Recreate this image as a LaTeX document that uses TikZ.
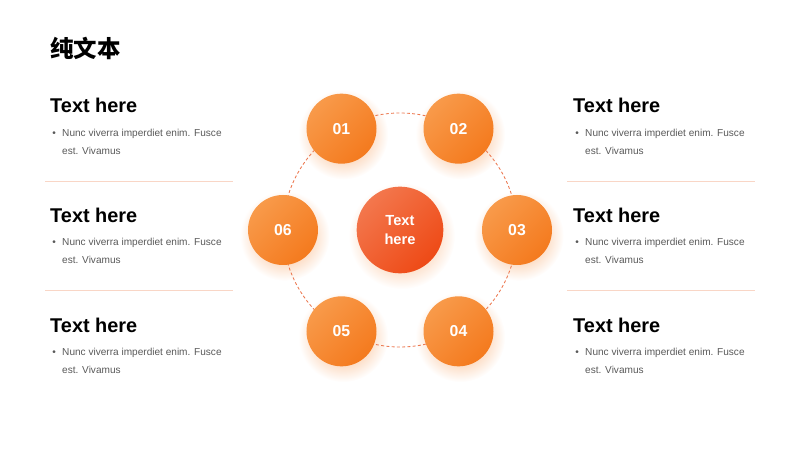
\documentclass[tikz,border=0pt]{standalone}
\usepackage{fontspec}
\setmainfont{Liberation Sans}
\newfontfamily\cjk{Noto Sans CJK SC}
\usetikzlibrary{positioning,calc}

\definecolor{ringc}{HTML}{EC7A52}
\definecolor{numlt}{HTML}{F89A4A}
\definecolor{numdk}{HTML}{F47A1E}
\definecolor{ctrlt}{HTML}{F3774D}
\definecolor{ctrdk}{HTML}{EE4A16}
\definecolor{glowc}{HTML}{FCDCC4}
\definecolor{bodyc}{HTML}{595959}
\definecolor{sepc}{HTML}{F9D6C6}
\pgfdeclareradialshading{glow}{\pgfpoint{0bp}{0bp}}{color(0bp)=(glowc); color(15bp)=(glowc); color(25bp)=(white); color(50bp)=(white)}

\begin{document}
\begin{tikzpicture}[x=0.03cm,y=0.03cm,
 title/.style={font=\cjk\bfseries\fontsize{20}{23}\selectfont,anchor=base west,inner sep=0pt},
 head/.style={font=\bfseries\fontsize{17}{20}\selectfont,anchor=base west,inner sep=0pt},
 body/.style={font=\fontsize{8.6}{15.4}\selectfont,text=bodyc,align=left,anchor=base west,inner sep=0pt},
 num/.style={circle,minimum size=2.1cm,inner sep=0pt,top color=numlt,bottom color=numdk,shading angle=45,
   text=white,font=\bfseries\fontsize{13.5}{16}\selectfont},
 hub/.style={circle,minimum size=2.6cm,inner sep=0pt,top color=ctrlt,bottom color=ctrdk,shading angle=45,
   text=white,align=center,font=\bfseries\fontsize{12.5}{15.5}\selectfont},
 ring/.style={draw=ringc,line width=0.75pt,dash pattern=on 2.5pt off 2pt},
 sep/.style={draw=sepc,line width=0.7pt}]
\useasboundingbox (0,0) rectangle (800,450);
% title
\node[title] (t) at (50,392) {纯文本};
% hub and ring
\coordinate (c) at (400,220);
\foreach \a in {120,60,0,-60,-120,180}
  \shade[shading=glow] ([shift={(\a:3.51cm)},xshift=1.5,yshift=-5]c) circle (1.35cm);
\shade[shading=glow] ([xshift=1.5,yshift=-5]c) circle (1.6cm);
\draw[ring] (c) circle (3.51cm);
\node[hub] (h) at (c) {Text\\here};
\node[num] (n1) at ([shift={(120:3.51cm)}]c) {01};
\node[num] (n2) at ([shift={(60:3.51cm)}]c) {02};
\node[num] (n3) at ([shift={(0:3.51cm)}]c) {03};
\node[num] (n4) at ([shift={(-60:3.51cm)}]c) {04};
\node[num] (n5) at ([shift={(-120:3.51cm)}]c) {05};
\node[num] (n6) at ([shift={(180:3.51cm)}]c) {06};
% left column
\node[head] (l1) at (50,337) {Text here};
\node[body] (lb1) at (62,295) {\llap{\textbullet\hspace{5.5pt}}Nunc viverra imperdiet enim. Fusce\\est. Vivamus};
\node[head] (l2) at (50,227) {Text here};
\node[body] (lb2) at (62,186) {\llap{\textbullet\hspace{5.5pt}}Nunc viverra imperdiet enim. Fusce\\est. Vivamus};
\node[head] (l3) at (50,117) {Text here};
\node[body] (lb3) at (62,76) {\llap{\textbullet\hspace{5.5pt}}Nunc viverra imperdiet enim. Fusce\\est. Vivamus};
\draw[sep] (45,269) -- (233,269);
\draw[sep] (45,160) -- (233,160);
% right column
\node[head] (r1) at (573,337) {Text here};
\node[body] (rb1) at (585,295) {\llap{\textbullet\hspace{5.5pt}}Nunc viverra imperdiet enim. Fusce\\est. Vivamus};
\node[head] (r2) at (573,227) {Text here};
\node[body] (rb2) at (585,186) {\llap{\textbullet\hspace{5.5pt}}Nunc viverra imperdiet enim. Fusce\\est. Vivamus};
\node[head] (r3) at (573,117) {Text here};
\node[body] (rb3) at (585,76) {\llap{\textbullet\hspace{5.5pt}}Nunc viverra imperdiet enim. Fusce\\est. Vivamus};
\draw[sep] (567,269) -- (755,269);
\draw[sep] (567,160) -- (755,160);
\end{tikzpicture}
\end{document}
